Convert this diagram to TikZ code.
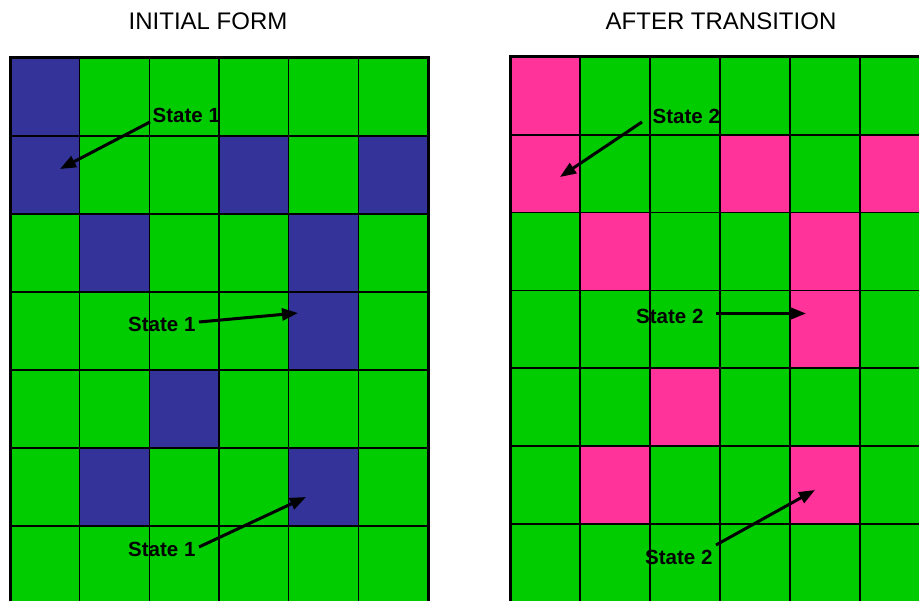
\documentclass[tikz,border=0pt]{standalone}
\usepackage{fontspec}
\setmainfont{Liberation Sans}
\usetikzlibrary{arrows.meta}
\definecolor{cellgreen}{HTML}{00CC00}
\definecolor{cellblue}{HTML}{333399}
\definecolor{cellpink}{HTML}{FF3399}
\tikzset{
  gridline/.style={draw=black, line width=1.6pt},
  gridborder/.style={draw=black, line width=3pt},
  titletext/.style={font=\fontsize{24}{27}\selectfont, inner sep=0pt},
  statelabel/.style={font=\bfseries\fontsize{20.5}{23}\selectfont, inner sep=0pt, anchor=base west},
  statearrow/.style={draw=black, line width=3pt, -{Triangle[length=16pt,width=12pt]}},
}
\begin{document}
\begin{tikzpicture}[x=1pt,y=-1pt]
\useasboundingbox (0,0) rectangle (919,601);
\clip (0,0) rectangle (919,601);
% ---------- left grid ----------
\fill[cellgreen] (10,58) rectangle (428,604);
\foreach \c/\r in {0/0,0/1,3/1,5/1,1/2,4/2,4/3,2/4,1/5,4/5}
  \fill[cellblue] ({10+69.67*\c},{58+78*\r}) rectangle ({10+69.67*(\c+1)},{58+78*(\r+1)});
\foreach \i in {1,...,5}
  \draw[gridline] ({10+69.67*\i},58) -- ({10+69.67*\i},610);
\foreach \j in {1,...,6}
  \draw[gridline] (10,{58+78*\j}) -- (428,{58+78*\j});
\draw[gridborder] (10,610) -- (10,58) -- (428,58) -- (428,610);
% ---------- right grid ----------
\fill[cellgreen] (510,57) rectangle (930,604);
\foreach \c/\r in {0/0,0/1,3/1,5/1,1/2,4/2,4/3,2/4,1/5,4/5}
  \fill[cellpink] ({510+70*\c},{57+77.8*\r}) rectangle ({510+70*(\c+1)},{57+77.8*(\r+1)});
\foreach \i in {1,...,5}
  \draw[gridline] ({510+70*\i},57) -- ({510+70*\i},610);
\foreach \j in {1,...,6}
  \draw[gridline] (510,{57+77.8*\j}) -- (930,{57+77.8*\j});
\draw[gridborder] (510,610) -- (510,57) -- (930,57);
% ---------- titles ----------
\node[titletext] (t1) at (208,21.5) {INITIAL FORM};
\node[titletext] (t2) at (721,21.5) {AFTER TRANSITION};
% ---------- left labels ----------
\node[statelabel] (la) at (152.5,123) {State 1};
\node[statelabel] (lb) at (128,331.5) {State 1};
\node[statelabel] (lc) at (128,556) {State 1};
\coordinate (la0) at (150,122);
\coordinate (la1) at (60,169);
\coordinate (lb0) at (199,322);
\coordinate (lb1) at (298,313);
\coordinate (lc0) at (199,547);
\coordinate (lc1) at (306,497);
\draw[statearrow] (la0) -- (la1);
\draw[statearrow] (lb0) -- (lb1);
\draw[statearrow] (lc0) -- (lc1);
% ---------- right labels ----------
\node[statelabel] (ra) at (652.5,124) {State 2};
\node[statelabel] (rb) at (636,324) {State 2};
\node[statelabel] (rc) at (645,565) {State 2};
\coordinate (ra0) at (642,122);
\coordinate (ra1) at (560,177);
\coordinate (rb0) at (716,313.5);
\coordinate (rb1) at (806,313.5);
\coordinate (rc0) at (716,545);
\coordinate (rc1) at (815,490);
\draw[statearrow] (ra0) -- (ra1);
\draw[statearrow] (rb0) -- (rb1);
\draw[statearrow] (rc0) -- (rc1);
\end{tikzpicture}
\end{document}
